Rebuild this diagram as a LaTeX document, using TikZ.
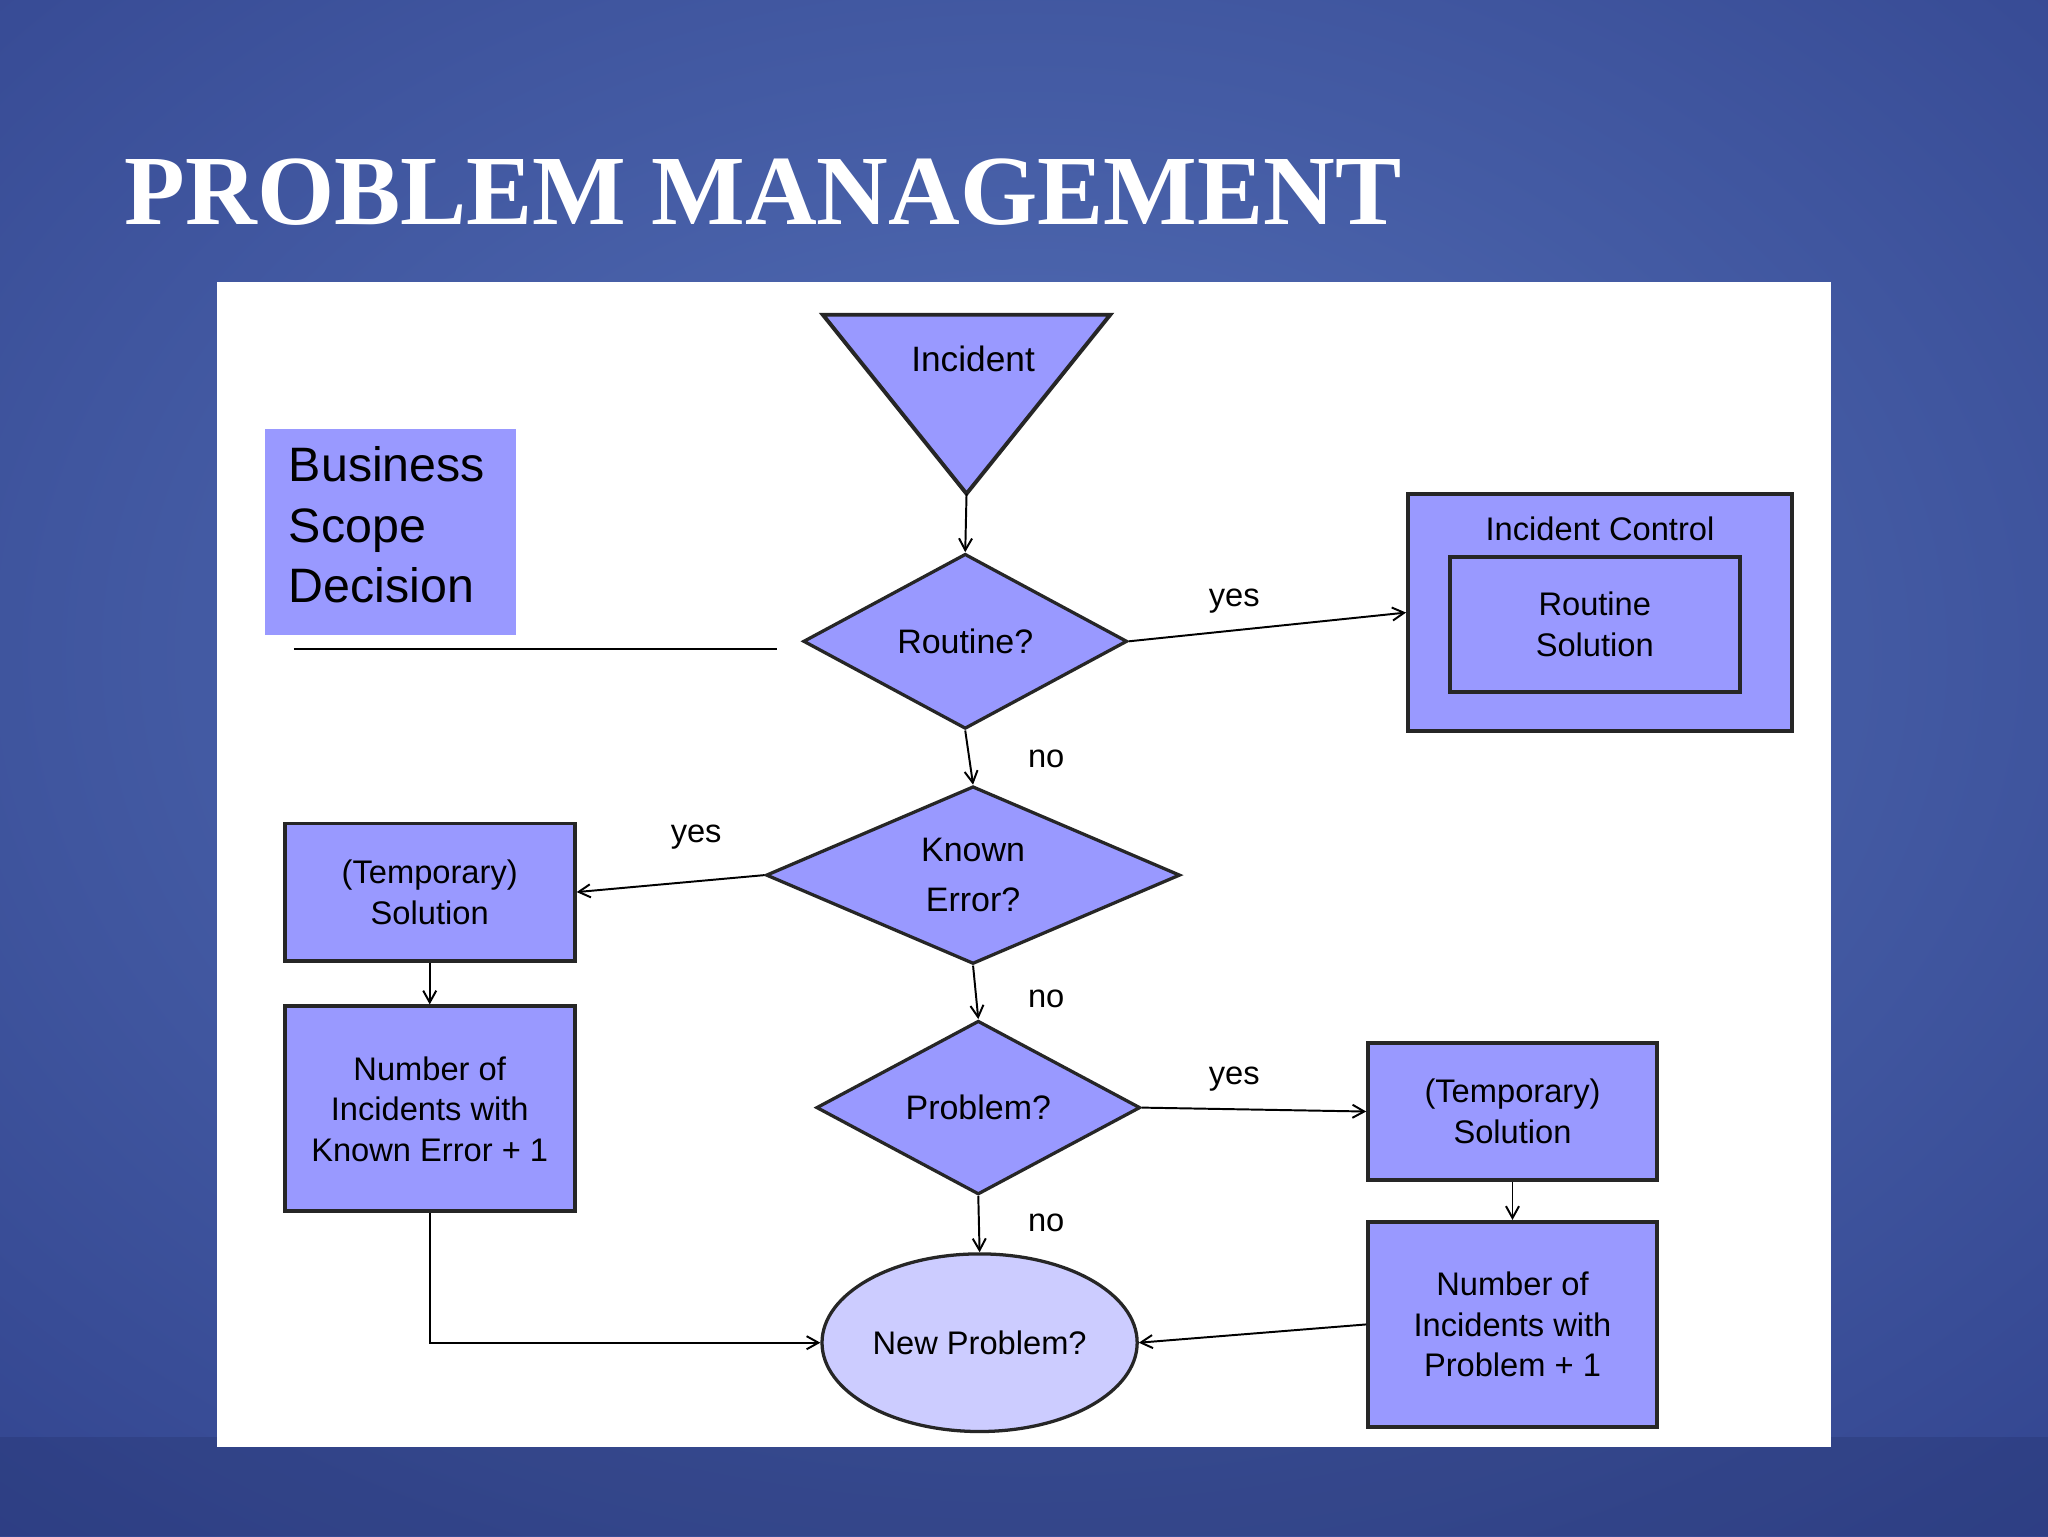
\documentclass[tikz,border=0pt]{standalone}
\usepackage{fontspec}
\setmainfont{Liberation Serif}
\newfontfamily\dsans{Liberation Sans}
\usetikzlibrary{shapes.geometric,arrows.meta}
\definecolor{bgedge}{HTML}{2E3F8A}
\definecolor{bgmid}{HTML}{5571B8}
\definecolor{shp}{HTML}{9999FF}
\definecolor{shplight}{HTML}{CCCCFF}
\begin{document}
\begin{tikzpicture}[x=1pt,y=-1pt,
  box/.style={draw=black!85,line width=3pt,fill=shp,inner sep=0pt,font=\dsans\fontsize{25}{31}\selectfont,align=center},
  dia/.style={diamond,draw=black!85,line width=2.5pt,fill=shp,inner sep=0pt,font=\dsans\fontsize{26}{38}\selectfont,align=center},
  lab/.style={font=\dsans\fontsize{25}{30}\selectfont},
  arr/.style={line width=1.5pt,-{Straight Barb[length=9pt,width=10pt]}}]
\useasboundingbox (0,0) rectangle (1568,1176);
\shade[inner color=bgmid,outer color=bgedge] (-600,-500) rectangle (2168,1500);
\fill[bgedge!70!black,opacity=0.25] (0,1100) rectangle (1568,1176);
\node[anchor=west,text=white,font=\bfseries\fontsize{76}{80}\selectfont] (title) at (92,147) {PROBLEM MANAGEMENT};
\fill[white] (166,216) rectangle (1402,1108);
% business scope
\node[fill=shp,minimum width=192,minimum height=158,anchor=north west,inner sep=0] (bsd) at (203,328) {};
\node[anchor=north west,align=left,font=\dsans\fontsize{37}{46}\selectfont,inner sep=0] (bsdt) at (221,342) {Business\\Scope\\Decision};
\coordinate (l1) at (225,497); \coordinate (l2) at (595,497);
\draw[line width=2pt] (l1) -- (l2);
% incident triangle
\coordinate (t1) at (630,241); \coordinate (t2) at (850,241); \coordinate (t3) at (740,378);
\draw[line width=3pt,fill=shp,draw=black!85,line join=miter] (t1) -- (t2) -- (t3) -- cycle;
\node[lab,font=\dsans\fontsize{27}{30}\selectfont] (inc) at (745,275) {Incident};
% diamonds
\node[dia,minimum width=248,minimum height=134] (rout) at (739,491) {Routine?};
\node[dia,minimum width=317,minimum height=136] (known) at (745,670) {Known\\Error?};
\node[dia,minimum width=248,minimum height=133] (prob) at (749,848) {Problem?};
\node[ellipse,draw=black!85,line width=2.5pt,fill=shplight,minimum width=208,minimum height=136,font=\dsans\fontsize{25}{30}\selectfont] (newp) at (750,1028) {New Problem?};
% incident control
\node[box,minimum width=294,minimum height=182] (ic) at (1225,469) {};
\node[lab] (ict) at (1225,405) {Incident Control};
\node[box,minimum width=222,minimum height=103] (rs) at (1221,478) {Routine\\Solution};
% left boxes
\node[box,minimum width=222,minimum height=105] (lts) at (329,683) {(Temporary)\\Solution};
\node[box,minimum width=222,minimum height=157] (lnum) at (329,849) {Number of\\Incidents with\\Known Error + 1};
% right boxes
\node[box,minimum width=221,minimum height=105] (rts) at (1158,851) {(Temporary)\\Solution};
\node[box,minimum width=221,minimum height=157] (rnum) at (1158,1014) {Number of\\Incidents with\\Problem + 1};
% arrows
\draw[arr] (t3) -- (rout.north);
\draw[arr] (rout.east) -- (ic.west);
\draw[arr] (rout.south) -- (known.north);
\draw[arr] (known.west) -- (lts.east);
\draw[arr] (lts.south) -- (lnum.north);
\draw[arr] (known.south) -- (prob.north);
\draw[arr] (prob.east) -- (rts.west);
\draw[arr] (rts.south) -- (rnum.north);
\draw[arr] (prob.south) -- (newp.north);
\draw[arr] (lnum.south) |- (newp.west);
\draw[arr] (rnum.west) -- (newp.east);
% labels
\node[lab] (y1) at (945,460) {yes};
\node[lab] (n1) at (801,581) {no};
\node[lab] (y2) at (533,641) {yes};
\node[lab] (n2) at (801,765) {no};
\node[lab] (y3) at (945,826) {yes};
\node[lab] (n3) at (801,936) {no};
\end{tikzpicture}
\end{document}
